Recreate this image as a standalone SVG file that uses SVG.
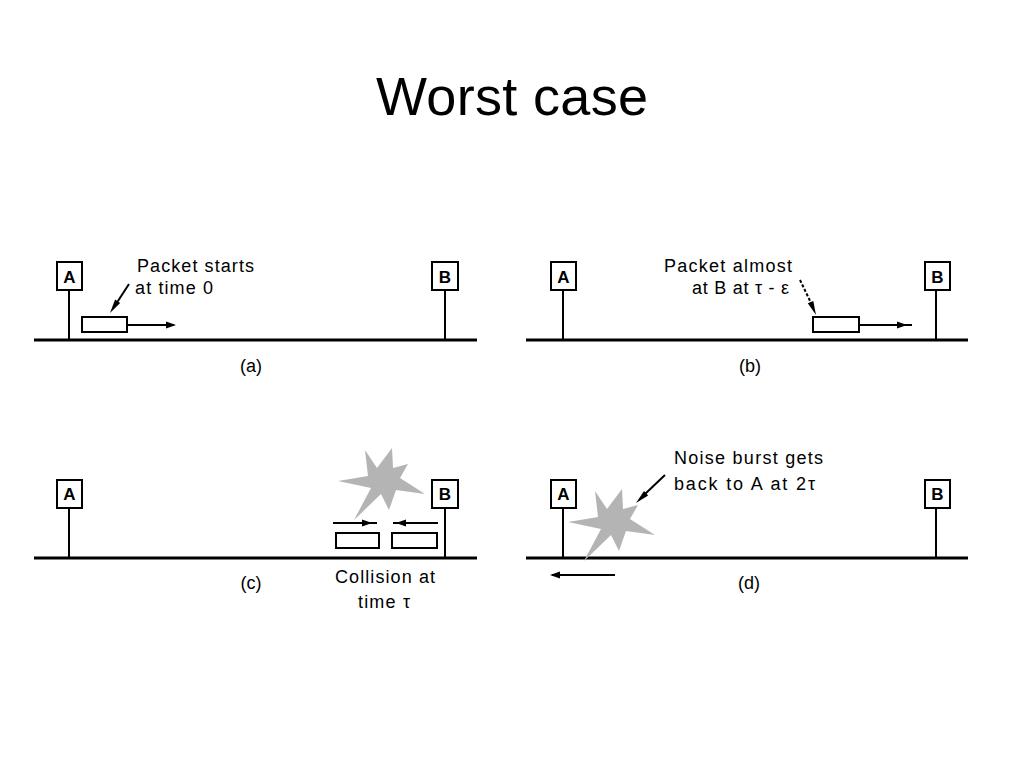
<svg xmlns="http://www.w3.org/2000/svg" xmlns:xlink="http://www.w3.org/1999/xlink" width="1024" height="768" viewBox="0 0 1024 768">
<style>
.bus{stroke:#000;stroke-width:3;fill:none}
.ln{stroke:#000;stroke-width:2;fill:none}
.box{stroke:#000;stroke-width:2;fill:#fff}
.pkt{stroke:#000;stroke-width:2;fill:#fff}
.lbl{font-family:"Liberation Sans",Arial,sans-serif;font-size:18px;fill:#000}
.nm{font-family:"Liberation Sans",Arial,sans-serif;font-size:17px;font-weight:bold;fill:#000;text-anchor:middle}
.cap{font-family:"Liberation Sans",Arial,sans-serif;font-size:18px;fill:#000;text-anchor:middle}
.title{font-family:"Liberation Sans",Arial,sans-serif;font-size:54px;fill:#000;text-anchor:middle}
.burst{fill:#b4b4b4}
</style>
<defs>
<path id="ah" d="M0,0 L-10,-3.5 L-10,3.5 Z" fill="#000"/>
<path id="lh" d="M0,0 L-14,-3 L-14,3 Z" fill="#000"/>
<polygon id="star" class="burst" points="365,450 377,468 392,448 393,468 408,464 400,478 425,494 396,490 389,510 381,494 354,520 371,488 338,481 368,476"/>
</defs>
<rect width="1024" height="768" fill="#fff"/>
<text class="title" x="512" y="115" textLength="272">Worst case</text>

<g id="buses">
<line class="bus" x1="34" y1="340" x2="477" y2="340"/>
<line class="bus" x1="526" y1="340" x2="968" y2="340"/>
<line class="bus" x1="34" y1="558" x2="477" y2="558"/>
<line class="bus" x1="526" y1="558" x2="968" y2="558"/>
</g>

<g id="stations">
<g id="a-A"><line class="ln" x1="69" y1="290" x2="69" y2="340"/><rect class="box" x="57" y="262" width="25" height="28"/><text class="nm" x="69.5" y="283">A</text></g>
<g id="a-B"><line class="ln" x1="445" y1="290" x2="445" y2="340"/><rect class="box" x="432" y="262" width="26" height="28"/><text class="nm" x="445" y="283">B</text></g>
<g id="b-A"><line class="ln" x1="563" y1="290" x2="563" y2="340"/><rect class="box" x="551" y="262" width="25" height="28"/><text class="nm" x="563.5" y="283">A</text></g>
<g id="b-B"><line class="ln" x1="936" y1="290" x2="936" y2="340"/><rect class="box" x="925" y="262" width="25" height="28"/><text class="nm" x="937.5" y="283">B</text></g>
<g id="c-A"><line class="ln" x1="69" y1="508" x2="69" y2="558"/><rect class="box" x="57" y="480" width="25" height="28"/><text class="nm" x="69.5" y="500">A</text></g>
<g id="c-B"><line class="ln" x1="445" y1="508" x2="445" y2="558"/><rect class="box" x="432" y="480" width="26" height="28"/><text class="nm" x="445" y="500">B</text></g>
<g id="d-A"><line class="ln" x1="563" y1="508" x2="563" y2="558"/><rect class="box" x="551" y="480" width="25" height="28"/><text class="nm" x="563.5" y="500">A</text></g>
<g id="d-B"><line class="ln" x1="936" y1="508" x2="936" y2="558"/><rect class="box" x="925" y="480" width="25" height="28"/><text class="nm" x="937.5" y="500">B</text></g>
</g>

<g id="bursts">
<use xlink:href="#star" href="#star"/>
<use xlink:href="#star" href="#star" transform="translate(230,41)"/>
</g>

<g id="packets">
<rect class="pkt" x="82" y="317" width="45" height="15"/>
<rect class="pkt" x="813" y="317" width="46" height="15"/>
<rect class="pkt" x="336" y="533" width="43" height="15"/>
<rect class="pkt" x="392" y="533" width="45" height="15"/>
</g>

<g id="connectors">
<line class="ln" x1="127" y1="325" x2="174" y2="325"/>
<use xlink:href="#ah" href="#ah" transform="translate(176,325)"/>
<line class="ln" x1="859" y1="325" x2="912" y2="325"/>
<use xlink:href="#ah" href="#ah" transform="translate(907,325)"/>
<line class="ln" x1="333" y1="523" x2="377" y2="523"/>
<use xlink:href="#ah" href="#ah" transform="translate(372,523)"/>
<line class="ln" x1="393" y1="523" x2="438" y2="523"/>
<use xlink:href="#ah" href="#ah" transform="translate(396,523) rotate(180)"/>
<line class="ln" x1="552" y1="575" x2="615" y2="575"/>
<use xlink:href="#ah" href="#ah" transform="translate(550,575) rotate(180)"/>
<line class="ln" x1="129" y1="284" x2="116" y2="304"/>
<use xlink:href="#lh" href="#lh" transform="translate(110,313) rotate(123)"/>
<line class="ln" x1="800" y1="280" x2="812" y2="305" stroke-dasharray="3,2"/>
<use xlink:href="#lh" href="#lh" transform="translate(816,315) rotate(67)"/>
<line class="ln" x1="665" y1="475" x2="645" y2="494"/>
<use xlink:href="#lh" href="#lh" transform="translate(636,503) rotate(136)"/>
</g>

<g id="labels">
<text class="lbl" x="137" y="272" textLength="117">Packet starts</text>
<text class="lbl" x="135" y="294" textLength="78">at time 0</text>
<text class="lbl" x="664" y="272" textLength="128">Packet almost</text>
<text class="lbl" x="692" y="294" textLength="97">at B at τ - ε</text>
<text class="lbl" x="335" y="583" textLength="100">Collision at</text>
<text class="lbl" x="358" y="608" textLength="52">time τ</text>
<text class="lbl" x="674" y="464" textLength="149">Noise burst gets</text>
<text class="lbl" x="674" y="490" textLength="141">back to A at 2τ</text>
<text class="cap" x="251" y="372">(a)</text>
<text class="cap" x="750" y="372">(b)</text>
<text class="cap" x="251" y="589">(c)</text>
<text class="cap" x="749" y="589">(d)</text>
</g>
</svg>
